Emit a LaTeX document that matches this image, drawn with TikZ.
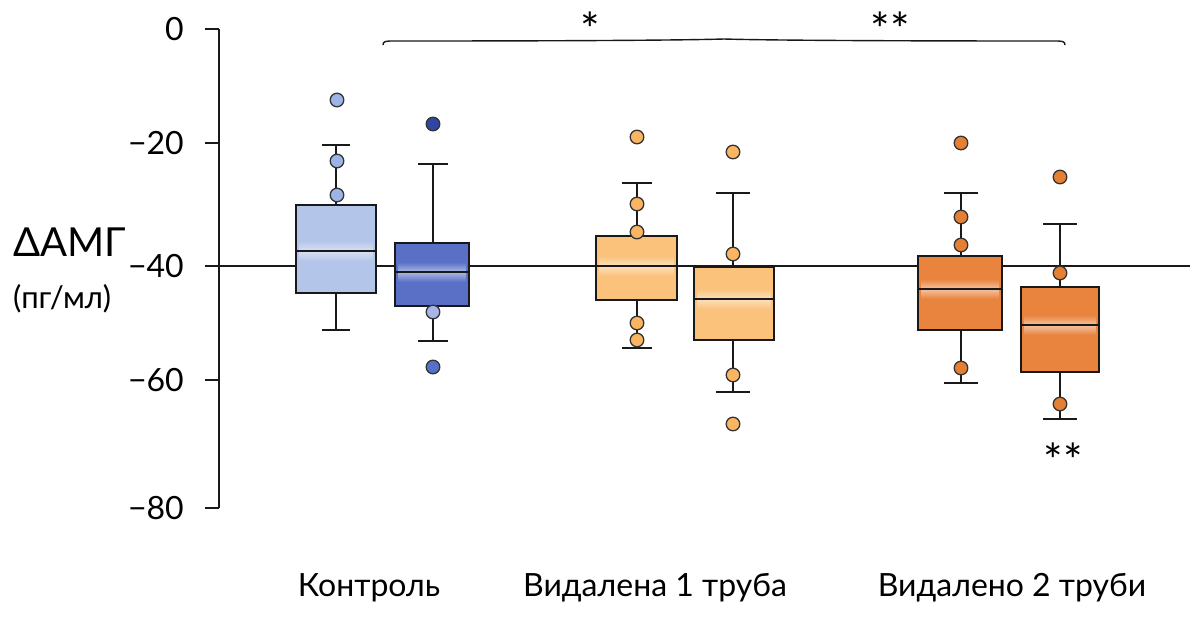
\documentclass[tikz,border=0pt]{standalone}
\usepackage{fontspec}
\setmainfont{Lato}
\definecolor{bluelight}{HTML}{B3C5E8}
\definecolor{bluedark}{HTML}{5A70C6}
\definecolor{orangelight}{HTML}{FBC27C}
\definecolor{orangedark}{HTML}{E9843F}
\definecolor{dotblue}{HTML}{9DB4E6}
\definecolor{dotnavy}{HTML}{2F47A3}
\definecolor{dotlav}{HTML}{A8B5E8}
\definecolor{dotmid}{HTML}{5670C6}
\definecolor{dotorange}{HTML}{F9B562}
\definecolor{dotrust}{HTML}{E57F34}
\tikzset{
  axisline/.style={line width=2pt, black!90},
  boxline/.style={line width=2.8pt, black!90},
  outlier/.style={draw=black!80, line width=1.3pt},
  lbl/.style={font=\fontsize{32}{38}\selectfont, inner sep=0pt},
  starlbl/.style={font=\fontsize{46}{50}\selectfont, inner sep=0pt, anchor=base},
}

\begin{document}
\begin{tikzpicture}[x=1pt,y=-1pt]
\useasboundingbox (0,0) rectangle (1192,619);

% axis and ticks
\draw[axisline] (219,29) -- (219,508);
\foreach \yy/\txt [count=\i] in {29/0,143/−20,266/−40,380/−60,508/−80}{
  \draw[axisline] (205,\yy) -- (219,\yy);
  \node[lbl, anchor=east] (tick\i) at (184,\yy) {\txt};
}
\draw[axisline] (219,266) -- (1190,266);

\node[lbl, anchor=west, font=\fontsize{40}{44}\selectfont] (ylab) at (13,242) {ΔАМГ};
\node[lbl, anchor=west, font=\fontsize{31}{36}\selectfont] (yunit) at (13,299) {(пг/мл)};

% boxes
\foreach \xa/\xb/\xc/\ya/\ym/\yb/\wt/\wb/\cw/\col in {
  296/376/336/205/251/293/145/330/14/bluelight,
  395/469/433/243/272/306/164/341/15/bluedark,
  596/677/637/236/266/300/183/348/15/orangelight,
  694/774/733/267/299/340/193/392/17/orangelight,
  918/1002/961/256/289/330/193/383/17/orangedark,
  1021/1099/1060/287/325/372/224/419/17/orangedark}{
  \draw[boxline] (\xc,\wt) -- (\xc,\wb);
  \draw[boxline] (\xc-\cw,\wt) -- (\xc+\cw,\wt);
  \draw[boxline] (\xc-\cw,\wb) -- (\xc+\cw,\wb);
  \fill[\col] (\xa,\ya) rectangle (\xb,\yb);
  \shade[top color=\col, bottom color=\col, middle color=\col!50!white]
    (\xa+3,\ym-10) rectangle (\xb-3,\ym+10);
  \draw[boxline] (\xa,\ya) rectangle (\xb,\yb);
  \draw[boxline] (\xa,\ym) -- (\xb,\ym);
}

% outliers
\foreach \px/\py/\pc in {
  337/100/dotblue, 337/161/dotblue, 337/195/dotblue,
  433/124/dotnavy, 433/312/dotlav, 433/367/dotmid,
  637/137/dotorange, 637/204/dotorange, 637/232/dotorange,
  637/323/dotorange, 637/340/dotorange,
  733/152/dotorange, 733/254/dotorange, 733/375/dotorange, 733/424/dotorange,
  961/143/dotrust, 961/217/dotrust, 961/245/dotrust, 961/368/dotrust,
  1060/177/dotrust, 1060/273/dotrust, 1060/404/dotrust}{
  \filldraw[outlier, fill=\pc] (\px,\py) circle (6.8pt);
}

% significance
\coordinate (brL) at (383,45);
\coordinate (brR) at (1065,45);
\draw[line width=1.4pt, black!90] (brL) .. controls (383,41) and (386,41) .. (394,41)
  .. controls (600,41) and (690,40) .. (724,39)
  .. controls (758,40) and (850,41) .. (1054,41)
  .. controls (1062,41) and (1065,41) .. (brR);
\node[starlbl] (star1) at (590,46) {*};
\node[starlbl] (star2) at (890,46) {**};
\node[starlbl] (star3) at (1063,477) {**};

% group labels
\node[lbl, anchor=base] (grp1) at (369,596) {Контроль};
\node[lbl, anchor=base] (grp2) at (655,596) {Видалена 1 труба};
\node[lbl, anchor=base] (grp3) at (1012,596) {Видалено 2 труби};
\end{tikzpicture}
\end{document}
